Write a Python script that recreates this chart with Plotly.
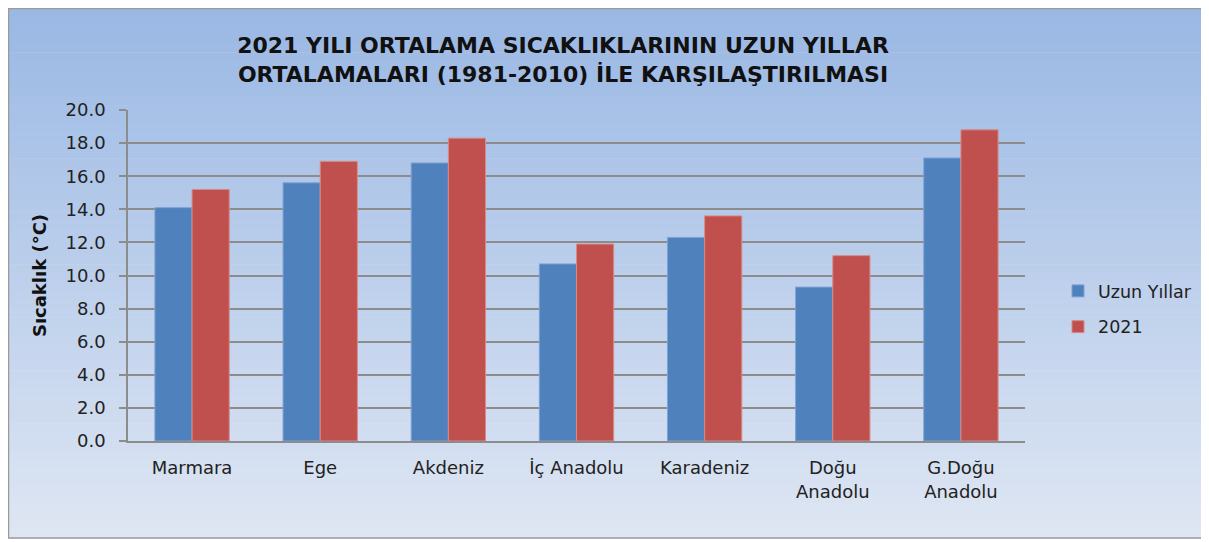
import plotly.graph_objects as go

categories = ["Marmara", "Ege", "Akdeniz", "İç Anadolu", "Karadeniz", "Doğu<br>Anadolu", "G.Doğu<br>Anadolu"]
uzun_yillar = [14.1, 15.6, 16.8, 10.7, 12.3, 9.3, 17.1]
y2021 = [15.2, 16.9, 18.3, 11.9, 13.6, 11.2, 18.8]
y_ticks = [0, 2, 4, 6, 8, 10, 12, 14, 16, 18, 20]
y_tick_labels = [f"{v:.1f}" for v in y_ticks]

OFF = 8  # page body margin
W, H = 1209 - OFF, 542 - OFF
L, T = 128 - OFF, 110 - OFF
R = W - (1025 - OFF)
B = H - (441 - OFF)
pw, ph = W - L - R, H - T - B

FONT = "DejaVu Sans"

fig = go.Figure()
fig.add_trace(go.Bar(name="Uzun Yıllar", x=categories, y=uzun_yillar, legendgroup="a",
                     marker=dict(color="#4F81BD", line=dict(color="#7fa2d4", width=1))))
fig.add_trace(go.Bar(name="2021", x=categories, y=y2021, legendgroup="b",
                     marker=dict(color="#C0504D", line=dict(color="#d98a88", width=1))))


def px_x(sx):
    return (sx - OFF - L) / pw


def px_y(sy):
    return 1 - (sy - OFF - T) / ph


top = (154, 184, 228)
bot = (222, 230, 243)
n = 60
y_start, y_end = OFF, 538
shapes = []
for i in range(n):
    f = i / (n - 1)
    c = tuple(int(round(top[k] + (bot[k] - top[k]) * f)) for k in range(3))
    y0 = y_start + (y_end - y_start) * i / n
    y1 = y_start + (y_end - y_start) * (i + 1) / n + 0.6
    shapes.append(dict(type="rect", xref="paper", yref="paper", layer="below",
                       x0=px_x(OFF), x1=px_x(1205),
                       y0=px_y(y1), y1=px_y(y0),
                       line=dict(width=0), fillcolor=f"rgb{c}"))
shapes.append(dict(type="rect", xref="paper", yref="paper", layer="below",
                   x0=px_x(OFF + 0.5), x1=px_x(1205),
                   y0=px_y(538), y1=px_y(OFF + 0.5),
                   line=dict(color="#9a9a9a", width=1.5), fillcolor="rgba(0,0,0,0)"))

fig.update_layout(
    width=W, height=H,
    margin=dict(l=L, r=R, t=T, b=B),
    paper_bgcolor="white",
    plot_bgcolor="rgba(0,0,0,0)",
    shapes=shapes,
    barmode="group",
    bargap=0.42,
    bargroupgap=0,
    title=dict(text="2021 YILI ORTALAMA SICAKLIKLARININ UZUN YILLAR<br>ORTALAMALARI (1981-2010) İLE KARŞILAŞTIRILMASI",
               x=(563 - OFF) / W, xanchor="center", y=1 - (53 - OFF) / H, yanchor="middle",
               font=dict(family=FONT, size=22, color="#111111", weight="bold")),
    font=dict(family=FONT, size=18, color="#222222"),
    legend=dict(x=px_x(1058), y=px_y(309), xanchor="left", yanchor="middle",
                bgcolor="rgba(0,0,0,0)", font=dict(size=17.5, color="#222222"),
                tracegroupgap=10, itemwidth=30),
    yaxis=dict(range=[0, 20], tickvals=y_ticks, ticktext=y_tick_labels,
               showgrid=True, gridcolor="#8c8c8c", gridwidth=1.5,
               showline=True, linecolor="#8c8c8c", linewidth=1.5,
               ticks="outside", ticklen=7, tickcolor="#8c8c8c", tickwidth=1.5,
               zeroline=False, tickfont=dict(size=18), ticklabelstandoff=10,
               title=dict(text="<b>Sıcaklık (°C)</b>", font=dict(size=18, color="#111111"), standoff=14)),
    xaxis=dict(showline=True, linecolor="#8c8c8c", linewidth=1.5, ticks="",
               tickfont=dict(size=18), showgrid=False, ticklabelstandoff=10),
)

fig.write_html("out.html")
